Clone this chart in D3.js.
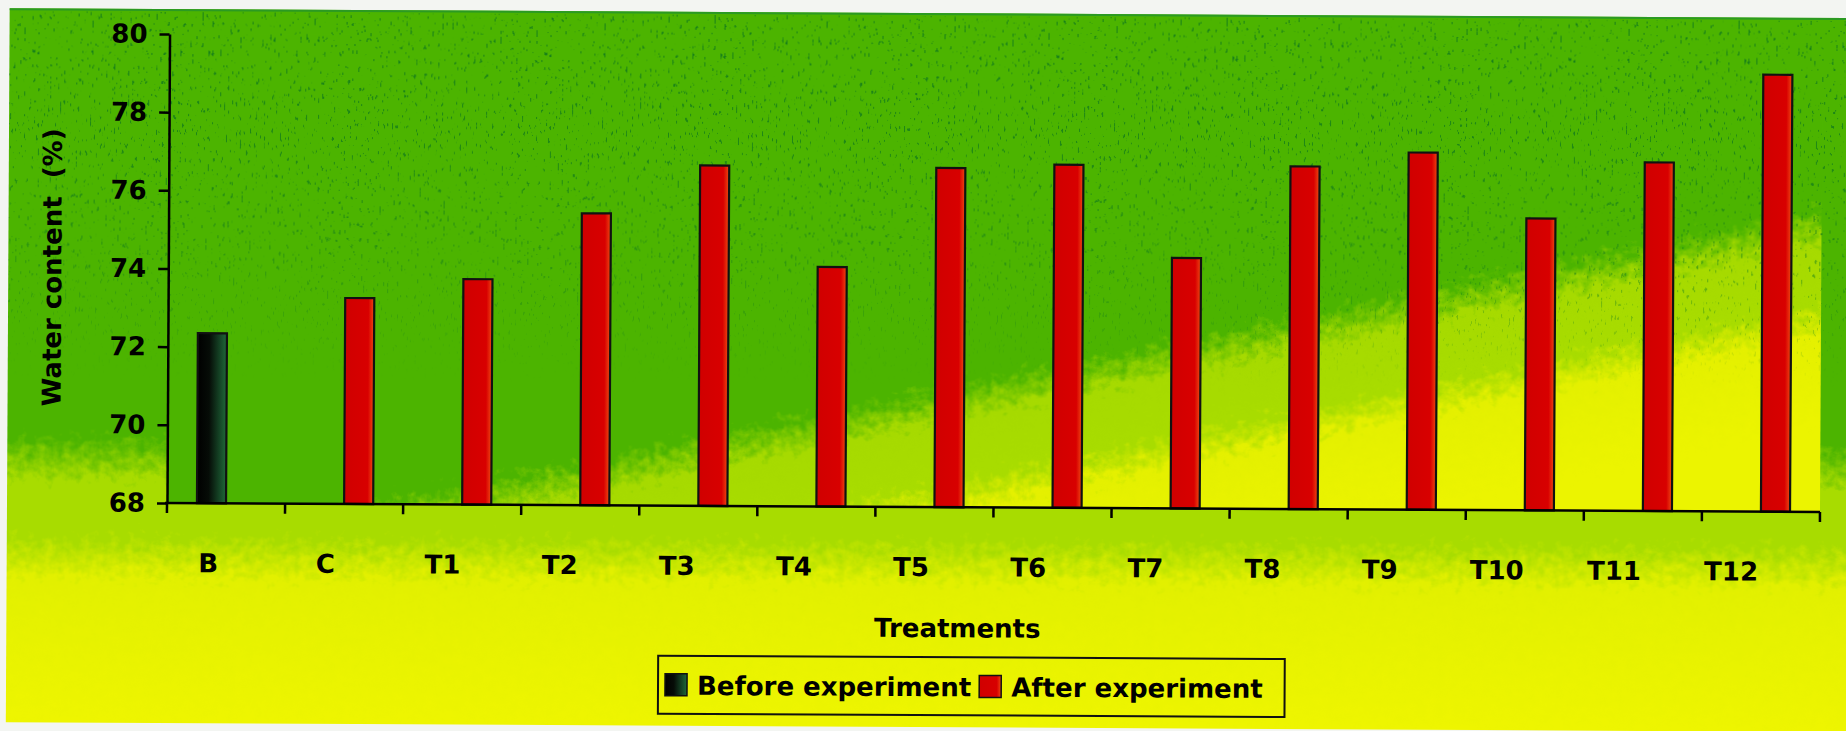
<!DOCTYPE html>
<html>
<head>
<meta charset="utf-8">
<script src="https://cdn.jsdelivr.net/npm/d3@7"></script>
<style>
  html, body { margin: 0; padding: 0; background: #f3f5f2; }
  svg { display: block; }
  text { font-family: "DejaVu Sans", sans-serif; font-weight: bold; fill: #000; }
</style>
</head>
<body>
<svg id="chart" width="1846" height="731"></svg>
<script>
// ---- data ----
const categories = ["B", "C", "T1", "T2", "T3", "T4", "T5", "T6", "T7", "T8", "T9", "T10", "T11", "T12"];
const seriesNames = ["Before experiment", "After experiment"];
const beforeValues = [72.35, null, null, null, null, null, null, null, null, null, null, null, null, null];
const afterValues  = [null, 73.27, 73.77, 75.47, 76.71, 74.13, 76.68, 76.78, 74.41, 76.77, 77.14, 75.47, 76.92, 79.18];
const yTicks = [68, 70, 72, 74, 76, 78, 80];
const xTitle = "Treatments";
const yTitle = "Water content  (%)";

// ---- layout ----
const plot = { left: 167, right: 1820, top: 34, bottom: 503 };
const tilt = 0.31;   // the whole sheet sits slightly skewed

const svg = d3.select("#chart");
const defs = svg.append("defs");

// plot area fill: green fading diagonally into lime and yellow
const pg = defs.append("linearGradient").attr("id", "plotFill")
  .attr("gradientUnits", "userSpaceOnUse")
  .attr("x1", 0).attr("y1", 0).attr("x2", 160).attr("y2", 766);
[[0, "#4cb400"], [0.725, "#4cb400"], [0.77, "#a6da00"], [0.845, "#a8dc00"], [0.885, "#e4f000"], [1, "#ecf400"]]
  .forEach(([o, c]) => pg.append("stop").attr("offset", o).attr("stop-color", c));

// chart area fill: vertical green -> lime -> yellow
const cg = defs.append("linearGradient").attr("id", "areaFill")
  .attr("gradientUnits", "userSpaceOnUse")
  .attr("x1", 0).attr("y1", 10).attr("x2", 0).attr("y2", 723);
[[0, "#4cb400"], [0.6, "#4cb400"], [0.66, "#a8dc00"], [0.74, "#a8dc00"], [0.8, "#e2f000"], [1, "#eef500"]]
  .forEach(([o, c]) => cg.append("stop").attr("offset", o).attr("stop-color", c));

// bar fills
const bg = defs.append("linearGradient").attr("id", "beforeFill");
[[0, "#000000"], [0.4, "#060c07"], [1, "#1f6a3a"]]
  .forEach(([o, c]) => bg.append("stop").attr("offset", o).attr("stop-color", c));
const ag = defs.append("linearGradient").attr("id", "afterFill");
[[0, "#d00000"], [0.8, "#d80000"], [1, "#ee4a12"]]
  .forEach(([o, c]) => ag.append("stop").attr("offset", o).attr("stop-color", c));

// grainy colour transitions
const mottle = defs.append("filter").attr("id", "mottle")
  .attr("x", "-5%").attr("y", "-5%").attr("width", "110%").attr("height", "110%")
  .attr("color-interpolation-filters", "sRGB");
mottle.append("feTurbulence").attr("type", "fractalNoise").attr("baseFrequency", 0.11)
  .attr("numOctaves", 4).attr("seed", 3).attr("result", "n");
mottle.append("feDisplacementMap").attr("in", "SourceGraphic").attr("in2", "n")
  .attr("scale", 40).attr("xChannelSelector", "R").attr("yChannelSelector", "G");

// dark green flecks in the upper part of the sheet
const speck = defs.append("filter").attr("id", "speck")
  .attr("x", 0).attr("y", 0).attr("width", "100%").attr("height", "100%")
  .attr("color-interpolation-filters", "sRGB");
speck.append("feTurbulence").attr("type", "fractalNoise").attr("baseFrequency", "0.5 0.14")
  .attr("numOctaves", 2).attr("seed", 11).attr("result", "n");
speck.append("feColorMatrix").attr("in", "n").attr("type", "matrix")
  .attr("values", "0 0 0 0 0.09  0 0 0 0 0.5  0 0 0 0 0.1  18 0 0 0 -12.4").attr("result", "dots");
speck.append("feComposite").attr("in", "dots").attr("in2", "SourceGraphic").attr("operator", "in");
const fade = defs.append("linearGradient").attr("id", "speckFade").attr("x1", 0).attr("y1", 0).attr("x2", 0).attr("y2", 1);
[[0, 1], [0.45, 0.75], [0.8, 0]].forEach(([o, a]) =>
  fade.append("stop").attr("offset", o).attr("stop-color", "#000").attr("stop-opacity", a));

defs.append("clipPath").attr("id", "sheetClip").append("rect")
  .attr("x", 7).attr("y", 9).attr("width", 1900).attr("height", 714);
defs.append("clipPath").attr("id", "plotClip").append("rect")
  .attr("x", plot.left).attr("y", plot.top)
  .attr("width", plot.right - plot.left).attr("height", plot.bottom - plot.top);

const root = svg.append("g")
  .attr("transform", `rotate(${tilt},${plot.left},${plot.bottom})`);

// ---- backgrounds ----
root.append("g").attr("clip-path", "url(#sheetClip)")
  .append("g").attr("filter", "url(#mottle)")
  .append("rect").attr("x", -30).attr("y", -20).attr("width", 1960).attr("height", 780)
  .attr("fill", "url(#areaFill)");
root.append("line").attr("x1", 7).attr("x2", 1900).attr("y1", 10).attr("y2", 10)
  .attr("stroke", "#2b9a22").attr("stroke-width", 2);

root.append("g").attr("clip-path", "url(#plotClip)")
  .append("g").attr("filter", "url(#mottle)")
  .append("rect").attr("x", plot.left - 40).attr("y", plot.top - 40)
  .attr("width", plot.right - plot.left + 80).attr("height", plot.bottom - plot.top + 80)
  .attr("fill", "url(#plotFill)");

root.append("g").attr("clip-path", "url(#sheetClip)")
  .append("rect").attr("x", 7).attr("y", 12).attr("width", 1900).attr("height", 460)
  .attr("fill", "url(#speckFade)").attr("filter", "url(#speck)");

// ---- scales ----
const x = d3.scaleBand().domain(categories).range([plot.left, plot.right]).paddingInner(0).paddingOuter(0);
const xs = d3.scaleBand().domain(seriesNames).range([0, x.bandwidth()]).paddingInner(0).paddingOuter(1.03);
const y = d3.scaleLinear().domain([68, 80]).range([plot.bottom, plot.top]);
const xLabel = d3.scaleBand().domain(categories).range([150, 1790]);

const rows = [];
categories.forEach((c, i) => {
  if (beforeValues[i] != null) rows.push({ cat: c, series: seriesNames[0], value: beforeValues[i] });
  if (afterValues[i] != null) rows.push({ cat: c, series: seriesNames[1], value: afterValues[i] });
});
const fillFor = s => s === seriesNames[0] ? "url(#beforeFill)" : "url(#afterFill)";

// ---- bars ----
root.append("g").selectAll("rect").data(rows).join("rect")
  .attr("x", d => x(d.cat) + xs(d.series))
  .attr("y", d => y(d.value))
  .attr("width", xs.bandwidth())
  .attr("height", d => y(68) - y(d.value))
  .attr("fill", d => fillFor(d.series))
  .attr("stroke", "#111").attr("stroke-width", 2.2);

// ---- y axis ----
const yAxis = root.append("g").attr("transform", `translate(${plot.left},0)`)
  .call(d3.axisLeft(y).tickValues(yTicks).tickSize(10).tickPadding(12).tickSizeOuter(0));
yAxis.selectAll("path, line").attr("stroke", "#000").attr("stroke-width", 2.5);
yAxis.selectAll("text").attr("font-size", 26).style("font-family", "DejaVu Sans").style("font-weight", "bold");

// ---- x axis ----
const xAxis = root.append("g");
xAxis.append("line").attr("x1", plot.left - 2).attr("x2", plot.right)
  .attr("y1", plot.bottom).attr("y2", plot.bottom)
  .attr("stroke", "#000").attr("stroke-width", 2.5);
const bounds = categories.map(c => x(c)).concat([x.range()[1]]);
xAxis.selectAll("line.tick").data(bounds).join("line").attr("class", "tick")
  .attr("x1", d => d).attr("x2", d => d)
  .attr("y1", plot.bottom).attr("y2", plot.bottom + 10)
  .attr("stroke", "#000").attr("stroke-width", 2.5);
xAxis.selectAll("text").data(categories).join("text")
  .attr("x", d => xLabel(d) + xLabel.bandwidth() / 2)
  .attr("y", 572)
  .attr("text-anchor", "middle").attr("font-size", 26)
  .text(d => d);

// ---- titles ----
root.append("text").attr("x", 958).attr("y", 633)
  .attr("text-anchor", "middle").attr("font-size", 26).text(xTitle);
root.append("text")
  .attr("transform", "translate(51,268) rotate(-90)")
  .attr("text-anchor", "middle").attr("dominant-baseline", "central")
  .attr("font-size", 26).style("white-space", "pre").text(yTitle);

// ---- legend ----
const legend = root.append("g");
const items = legend.selectAll("g").data(seriesNames).join("g");
items.append("rect").attr("width", 22).attr("height", 22).attr("y", 671)
  .attr("fill", d => fillFor(d)).attr("stroke", "#111").attr("stroke-width", 1.5);
items.append("text").attr("y", 692).attr("font-size", 26).text(d => d);
let cursor = 666;
items.each(function () {
  const g = d3.select(this);
  g.select("rect").attr("x", cursor);
  const t = g.select("text").attr("x", cursor + 32);
  cursor += 32 + t.node().getComputedTextLength() + 8;
});
legend.insert("rect", ":first-child")
  .attr("x", 659).attr("y", 653).attr("width", cursor + 14 - 659).attr("height", 58)
  .attr("fill", "none").attr("stroke", "#111").attr("stroke-width", 2);
</script>
</body>
</html>
